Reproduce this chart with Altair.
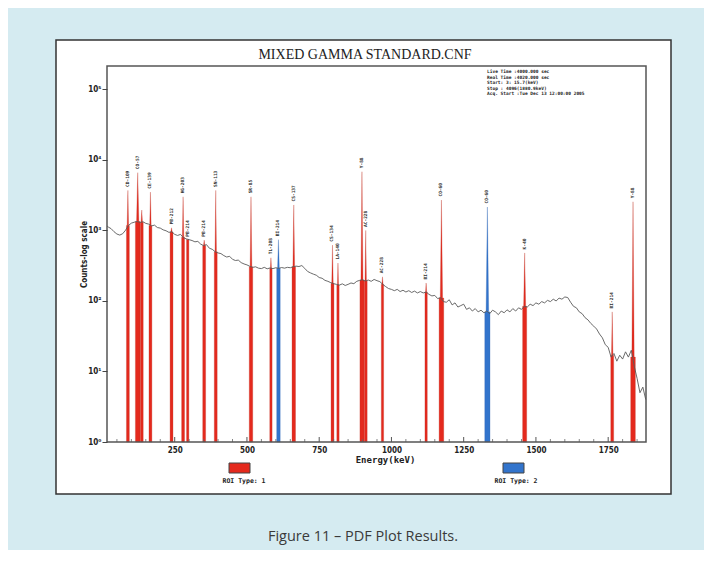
import altair as alt
import pandas as pd

# ---------------- data ----------------
# background continuum (counts per channel)
cont_energy = [15.7] + list(range(20, 1881, 10))
cont_counts = [
    1160, 1120, 1060, 960, 890, 860, 900, 1010, 1180, 1270,
    1310, 1340, 1300, 1330, 1260, 1230, 1160, 1190, 1100, 1080,
    1020, 990, 940, 960, 880, 850, 880, 790, 760, 740,
    720, 690, 700, 640, 610, 630, 560, 540, 500, 480,
    470, 440, 420, 430, 390, 375, 380, 350, 335, 325,
    310, 300, 305, 292, 288, 300, 286, 294, 288, 296,
    290, 298, 292, 300, 296, 306, 312, 308, 318, 290,
    262, 250, 240, 232, 215, 210, 196, 190, 182, 176,
    172, 168, 175, 166, 172, 180, 176, 190, 196, 200,
    192, 198, 190, 202, 194, 188, 172, 160, 150, 146,
    140, 146, 136, 142, 134, 140, 132, 138, 130, 136,
    130, 134, 124, 118, 120, 108, 112, 98, 96, 104,
    88, 94, 82, 86, 90, 76, 80, 72, 78, 70,
    74, 68, 72, 66, 74, 70, 64, 72, 68, 75,
    70, 78, 72, 80, 76, 84, 82, 90, 86, 94,
    90, 98, 94, 102, 98, 106, 100, 110, 106, 114,
    112, 96, 84, 80, 70, 66, 58, 54, 48, 44,
    40, 34, 30, 24, 22, 16, 18, 14, 17, 15,
    19, 16, 20, 12, 8, 5, 6, 4,
]

# identified peaks (ROIs)
peak_energy = [88, 122, 136, 166, 239, 279, 295, 352, 392, 514, 583, 609,
               662, 796, 815, 898, 911, 969, 1120, 1173, 1332, 1461, 1764, 1836]
peak_counts = [3700, 6600, 1950, 3500, 1090, 3000, 730, 730, 3700, 3000, 410, 740,
               2300, 620, 345, 6800, 1000, 220, 180, 2700, 2150, 480, 70, 2550]
peak_base = [1180, 1340, 1310, 1180, 950, 800, 750, 610, 500, 305, 290, 290,
             306, 178, 170, 198, 192, 172, 134, 110, 70, 84, 17, 16]
roi_halfwidth = [5, 8, 5, 5, 5, 5, 4, 5, 5, 6, 4, 6,
                 6, 5, 4, 7, 5, 4, 4, 8, 9, 7, 5, 8]
roi_type = [1, 1, 1, 1, 1, 1, 1, 1, 1, 1, 1, 2,
            1, 1, 1, 1, 1, 1, 1, 1, 2, 1, 1, 1]
peak_label = ["CD-109", "CO-57", "", "CE-139", "PB-212", "HG-203", "PB-214", "PB-214",
              "SN-113", "SR-85", "TL-208", "BI-214", "CS-137", "CS-134", "LA-140", "Y-88",
              "AC-228", "AC-228", "BI-214", "CO-60", "CO-60", "K-40", "BI-214", "Y-88"]

x_tick_values = [250, 500, 750, 1000, 1250, 1500, 1750]
x_minor_ticks = [50, 100, 150, 200, 300, 350, 400, 450, 550, 600, 650, 700, 800, 850,
                 900, 950, 1050, 1100, 1150, 1200, 1300, 1350, 1400, 1450, 1550, 1600,
                 1650, 1700, 1800, 1850]
y_tick_values = [1, 10, 100, 1000, 10000, 100000]

info_lines = [
    "Live Time  :4000.000 sec",
    "Real Time  :4020.000 sec",
    "Start:    3:   15.7(keV)",
    "Stop : 4096(1880.9keV)",
    "Acq. Start :Tue Dec 13 12:00:00 2005",
]

# ---------------- tables ----------------
cont_df = pd.DataFrame({"energy": cont_energy, "counts": cont_counts})

rows = []
for i, (e, c, b, w, t) in enumerate(zip(peak_energy, peak_counts, peak_base,
                                         roi_halfwidth, roi_type)):
    # ROI bar (full width up to the continuum) with a narrow spike on top
    for de, cc in ((-w, b), (-w / 2, b), (0, c), (w / 2, b), (w, b)):
        rows.append({"pid": i, "energy": e + de, "counts": cc, "base": 1, "type": t})
peak_df = pd.DataFrame(rows)

label_df = pd.DataFrame({"energy": peak_energy, "counts": peak_counts, "label": peak_label})
label_df = label_df[label_df["label"] != ""]

one = pd.DataFrame({"a": [0]})

# ---------------- styling ----------------
W, H = 539, 376
RED = "#e4291d"
BLUE = "#3274cc"
LABEL_FONT = "DejaVu Sans Condensed, Liberation Sans Narrow, DejaVu Sans"
MONO = "DejaVu Sans Mono"

x_scale = alt.Scale(domain=[15.7, 1880.9], nice=False, zero=False)
y_scale = alt.Scale(type="log", domain=[1, 215000], nice=False)

x_axis = alt.Axis(
    title="Energy(keV)", values=x_tick_values, format="d", ticks=False, domain=False,
    grid=False, labelPadding=4, labelFont=LABEL_FONT, labelFontSize=8,
    labelFontWeight="bold", labelColor="#222", titleFont=MONO, titleFontSize=9,
    titleFontWeight="bold", titleColor="#222", titleX=278, titleY=13, zindex=1,
)
y_axis = alt.Axis(
    title="Counts-log scale", values=y_tick_values,
    labelExpr=("datum.value == 1 ? '10\u2070' : datum.value == 10 ? '10\u00b9' : "
               "datum.value == 100 ? '10\u00b2' : datum.value == 1000 ? '10\u00b3' : "
               "datum.value == 10000 ? '10\u2074' : '10\u2075'"),
    tickSize=5, tickColor="#444", tickWidth=1, labelPadding=1, domain=False, grid=False,
    labelFont=LABEL_FONT, labelFontSize=8, labelFontWeight="bold", labelColor="#222",
    titleFont=LABEL_FONT, titleFontSize=8, titleFontWeight="bold", titleColor="#222",
    titleX=-23, titleY=H / 2, titleAngle=270, titleBaseline="middle", titleAlign="center",
    zindex=1,
)


def X(field):
    return alt.X(field, type="quantitative", scale=x_scale, axis=x_axis)


def Y(field):
    return alt.Y(field, type="quantitative", scale=y_scale, axis=y_axis)


# white framed box behind the plot
box = alt.Chart(one).mark_rect(fill="white", stroke="#333", strokeWidth=1.5).encode(
    x=alt.value(-51), x2=alt.value(564), y=alt.value(-26), y2=alt.value(428)
)
frame = alt.Chart(one).mark_rect(fill="white", fillOpacity=0, stroke="#555",
                                 strokeWidth=1.5).encode(
    x=alt.value(0), x2=alt.value(W), y=alt.value(0), y2=alt.value(H)
)

peaks = alt.Chart(peak_df).mark_area(strokeWidth=0.3, interpolate="linear").encode(
    x=X("energy"),
    y=Y("counts"),
    y2=alt.Y2("base"),
    detail="pid:N",
    color=alt.Color("type:N", scale=alt.Scale(domain=[1, 2], range=[RED, BLUE]), legend=None),
    stroke=alt.Stroke("type:N", scale=alt.Scale(domain=[1, 2], range=["#c0392b", "#2d64b0"]),
                      legend=None),
)

line = alt.Chart(cont_df).mark_line(color="#5a5a5a", strokeWidth=0.9).encode(
    x=X("energy"), y=Y("counts")
)

labels = alt.Chart(label_df).transform_calculate(
    label_y="datum.counts * 1.12"
).mark_text(angle=270, align="left", baseline="middle", font=MONO, fontSize=4.5,
            fontWeight="bold", color="#333").encode(
    x=X("energy"), y=Y("label_y:Q"), text="label:N"
)

minor = alt.Chart(pd.DataFrame({"t": x_minor_ticks})).mark_rule(
    color="#666", strokeWidth=0.8).encode(
    x=X("t"), y=alt.value(H), y2=alt.value(H - 3)
)
major = alt.Chart(pd.DataFrame({"t": x_tick_values})).mark_rule(
    color="#555", strokeWidth=1).encode(
    x=X("t"), y=alt.value(H), y2=alt.value(H - 5)
)

title = alt.Chart(one).mark_text(font="Liberation Serif", fontSize=14, color="#222",
                                 baseline="middle").encode(
    x=alt.value(258), y=alt.value(-11), text=alt.value("MIXED GAMMA STANDARD.CNF")
)

info = alt.Chart(one).mark_text(font=MONO, fontSize=4.5, fontWeight="bold", color="#222",
                                align="left", baseline="top", lineBreak="\n",
                                lineHeight=5.6).encode(
    x=alt.value(380), y=alt.value(3), text=alt.value("\n".join(info_lines))
)

leg_red = alt.Chart(one).mark_rect(fill=RED, stroke="#444", strokeWidth=1).encode(
    x=alt.value(122), x2=alt.value(143), y=alt.value(397), y2=alt.value(407)
)
leg_blue = alt.Chart(one).mark_rect(fill=BLUE, stroke="#444", strokeWidth=1).encode(
    x=alt.value(396), x2=alt.value(417), y=alt.value(397), y2=alt.value(407)
)
leg_t1 = alt.Chart(one).mark_text(font=MONO, fontSize=6.5, fontWeight="bold", color="#222",
                                  baseline="middle").encode(
    x=alt.value(137), y=alt.value(415), text=alt.value("ROI Type: 1")
)
leg_t2 = alt.Chart(one).mark_text(font=MONO, fontSize=6.5, fontWeight="bold", color="#222",
                                  baseline="middle").encode(
    x=alt.value(409), y=alt.value(415), text=alt.value("ROI Type: 2")
)

caption = alt.Chart(one).mark_text(font="Open Sans", fontSize=14.5, color="#3a3a3a",
                                   baseline="middle").encode(
    x=alt.value(256), y=alt.value(471), text=alt.value("Figure 11 \u2013 PDF Plot Results.")
)

chart = alt.layer(
    box, peaks, line, labels, minor, major, frame, title, info,
    leg_red, leg_blue, leg_t1, leg_t2, caption,
).properties(
    width=W, height=H,
    autosize=alt.AutoSizeParams(type="none"),
    padding={"left": 99, "top": 58, "right": 58, "bottom": 108},
    background="#d5ebf1",
).configure_view(stroke=None)

chart.save("out.html", embed_options={"renderer": "svg", "actions": False})
